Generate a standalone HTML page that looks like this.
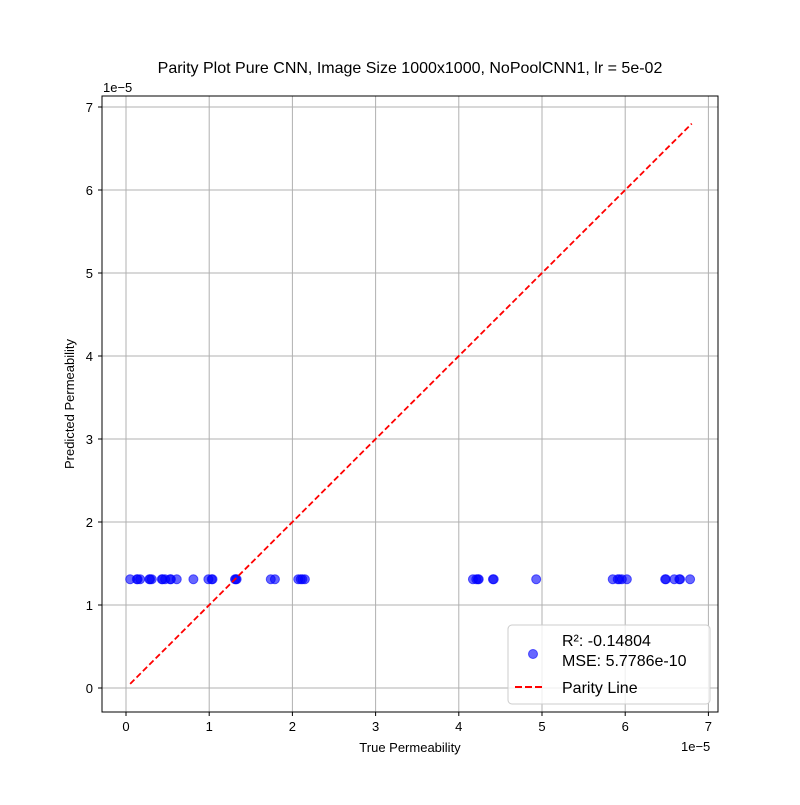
<!DOCTYPE html>
<html><head><meta charset="utf-8"><style>
body{margin:0;background:#fff}
svg text{font-family:"Liberation Sans","DejaVu Sans",sans-serif;fill:#000}
</style></head><body>
<svg id="chart" width="800" height="800" xmlns="http://www.w3.org/2000/svg">
<rect width="800" height="800" fill="#fff"/>
<text x="410" y="73" font-size="16" text-anchor="middle">Parity Plot Pure CNN, Image Size 1000x1000, NoPoolCNN1, lr = 5e-02</text>
<g id="grid"></g>
<g id="ticks"></g>
<g id="marks"></g>
<rect x="102" y="96" width="616" height="616" fill="none" stroke="#000" stroke-width="1"/>
<text x="103" y="92" font-size="13">1e−5</text>
<text x="681" y="751" font-size="13">1e−5</text>
<text x="410" y="752" font-size="13" text-anchor="middle">True Permeability</text>
<text x="74" y="404" font-size="13" text-anchor="middle" transform="rotate(-90 74 404)">Predicted Permeability</text>
<g>
<rect x="508" y="625" width="202" height="79" rx="4" fill="#fff" fill-opacity="0.8" stroke="#ccc"/>
<circle cx="533" cy="654" r="4.5" fill="#0000ff" fill-opacity="0.6" stroke="#0000ff" stroke-opacity="0.6"/>
<text x="562" y="646" font-size="16">R²: -0.14804</text>
<text x="562" y="666" font-size="16">MSE: 5.7786e-10</text>
<line x1="515" y1="687" x2="545" y2="687" stroke="#ff0000" stroke-width="2" stroke-dasharray="7,3"/>
<text x="562" y="693" font-size="16">Parity Line</text>
</g>
</svg>
<script>
const trueVals=[0.05,0.13,0.14,0.17,0.28,0.29,0.31,0.43,0.44,0.47,0.53,0.54,0.61,0.81,0.99,1.03,1.04,1.31,1.33,1.32,1.74,1.79,2.07,2.12,2.10,2.15,4.17,4.21,4.23,4.24,4.41,4.42,4.93,5.85,5.91,5.93,5.96,6.02,6.48,6.49,6.59,6.65,6.66,6.78];
const predVals=[1.31,1.31,1.31,1.31,1.31,1.31,1.31,1.31,1.31,1.31,1.31,1.31,1.31,1.31,1.31,1.31,1.31,1.31,1.31,1.31,1.31,1.31,1.31,1.31,1.31,1.31,1.31,1.31,1.31,1.31,1.31,1.31,1.31,1.31,1.31,1.31,1.31,1.31,1.31,1.31,1.31,1.31,1.31,1.31];
const xTicks=[0,1,2,3,4,5,6,7];
const yTicks=[0,1,2,3,4,5,6,7];
const parityRange=[0.05,6.8];
const NS="http://www.w3.org/2000/svg";
const X=v=>126+v*83.2, Y=v=>688-v*83.0;
function mk(tag,attrs,parent){const e=document.createElementNS(NS,tag);for(const k in attrs)e.setAttribute(k,attrs[k]);document.getElementById(parent).appendChild(e);return e;}
xTicks.forEach(t=>{
 const g=mk('line',{x1:X(t),x2:X(t),y1:96,y2:712,stroke:'#b0b0b0','stroke-width':1},'grid');
 
 
 const tk=mk('line',{x1:X(t),x2:X(t),y1:712,y2:716,stroke:'#000'},'ticks');
 
 
 const tx=mk('text',{x:X(t),y:731,'font-size':13,'text-anchor':'middle'},'ticks');tx.textContent=t;
 
 
});
yTicks.forEach(t=>{
 const g=mk('line',{x1:102,x2:718,y1:Y(t),y2:Y(t),stroke:'#b0b0b0','stroke-width':1},'grid');
 
 
 const tk=mk('line',{x1:98,x2:102,y1:Y(t),y2:Y(t),stroke:'#000'},'ticks');
 
 
 const tx=mk('text',{x:93,y:Y(t)+5,'font-size':13,'text-anchor':'end'},'ticks');tx.textContent=t;
 
 
});
trueVals.forEach((v,i)=>{
 const c=mk('circle',{cx:X(v),cy:Y(predVals[i]),r:4.5,fill:'#0000ff','fill-opacity':0.6,stroke:'#0000ff','stroke-opacity':0.6},'marks');
 
 
});
const pl=mk('line',{x1:X(parityRange[0]),y1:Y(parityRange[0]),x2:X(parityRange[1]),y2:Y(parityRange[1]),stroke:'#ff0000','stroke-width':1.8,'stroke-dasharray':'6,3'},'marks');


</script>
</body></html>
